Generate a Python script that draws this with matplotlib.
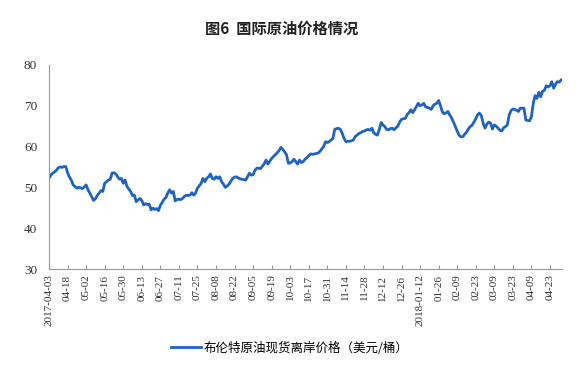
import matplotlib
matplotlib.use("Agg")
import matplotlib.pyplot as plt
import numpy as np

plt.rcParams['font.family'] = ['Noto Sans CJK SC', 'DejaVu Sans']

# 布伦特原油现货离岸价格（美元/桶），按交易日，从 2017-04-03 开始
price = [
    52.2, 53.0, 53.5, 53.8, 54.2, 54.8, 55.0, 54.9, 55.1, 55.1,
    53.6, 52.5, 51.8, 50.6, 50.2, 49.8, 50.0, 49.9, 49.7, 50.1,
    50.6, 49.4, 48.6, 47.7, 46.8, 47.2, 48.0, 48.6, 49.2, 49.0,
    51.0, 51.4, 51.8, 52.0, 53.5, 53.6, 53.3, 52.6, 52.0, 52.2,
    51.0, 51.8, 50.2, 49.6, 49.0, 48.0, 48.1, 46.5, 46.9, 47.3,
    46.8, 45.7, 46.0, 45.8, 45.9, 44.5, 44.9, 44.6, 44.8, 44.3,
    45.6, 46.3, 47.1, 47.5, 48.6, 49.4, 48.6, 49.0, 46.7, 47.0,
    47.1, 47.0, 47.3, 47.8, 48.1, 48.0, 48.1, 48.7, 48.1, 48.6,
    49.8, 50.4, 51.0, 52.2, 51.4, 52.2, 52.6, 53.3, 52.2, 52.0,
    52.6, 52.2, 52.6, 51.4, 50.8, 50.0, 50.3, 50.8, 51.5, 52.2,
    52.5, 52.6, 52.3, 52.1, 52.0, 51.9, 51.8, 52.6, 53.5, 53.0,
    53.1, 54.2, 54.7, 54.7, 54.6, 55.2, 55.8, 56.7, 55.7, 56.4,
    57.1, 57.6, 58.0, 58.5, 59.0, 59.8, 59.3, 58.7, 58.0, 55.9,
    56.0, 56.3, 56.9, 56.3, 55.7, 56.7, 56.1, 56.3, 56.9, 57.3,
    57.8, 58.2, 58.1, 58.2, 58.3, 58.4, 58.8, 59.4, 60.0, 61.2,
    61.0, 61.2, 61.6, 62.0, 64.2, 64.4, 64.5, 64.2, 63.3, 62.0,
    61.2, 61.3, 61.3, 61.4, 61.6, 62.4, 62.8, 63.2, 63.4, 63.7,
    63.8, 64.1, 64.2, 64.0, 64.5, 63.4, 63.0, 62.8, 64.2, 65.9,
    65.3, 64.9, 64.2, 64.1, 64.4, 64.5, 64.1, 64.6, 65.0, 66.0,
    66.7, 66.8, 66.9, 67.8, 68.3, 69.0, 68.3, 69.0, 69.8, 70.6,
    70.0, 70.2, 70.6, 69.7, 69.6, 69.4, 69.1, 70.0, 70.4, 70.6,
    71.3, 70.0, 68.5, 68.0, 68.3, 68.6, 67.7, 67.0, 66.0, 64.9,
    63.8, 62.8, 62.4, 62.4, 63.0, 63.5, 64.3, 64.9, 65.2, 66.0,
    66.8, 67.8, 68.2, 67.6, 65.7, 64.5, 65.5, 66.0, 65.7, 64.3,
    65.3, 65.0, 64.5, 64.0, 63.8, 64.6, 64.9, 65.3, 67.7, 68.8,
    69.2, 69.1, 68.9, 68.6, 69.4, 69.4, 69.4, 66.5, 66.4, 66.3,
    67.3, 70.6, 72.5, 71.8, 73.3, 72.2, 73.5, 73.8, 74.9, 74.6,
    74.9, 75.9, 74.3, 75.3, 75.9, 75.8, 76.3,
]

# 每 10 个交易日一个刻度
tick_labels = [
    '2017-04-03', '04-18', '05-02', '05-16', '05-30', '06-13', '06-27',
    '07-11', '07-25', '08-08', '08-22', '09-05', '09-19', '10-03',
    '10-17', '10-31', '11-14', '11-28', '12-12', '12-26', '2018-01-12',
    '01-26', '02-09', '02-23', '03-09', '03-23', '04-09', '04-23',
]
y_ticks = [30, 40, 50, 60, 70, 80]

fig = plt.figure(figsize=(5.8, 3.69), dpi=100)
ax = fig.add_axes([0.0845, 0.271, 0.8845, 0.553])

x = np.arange(len(price))
line, = ax.plot(x, price, color='#1f63c0', linewidth=2.0,
                label='布伦特原油现货离岸价格（美元/桶）')

ax.set_xlim(0, len(price) - 0.5)
ax.set_ylim(30, 80)
ax.set_yticks(y_ticks)
ax.set_yticklabels([str(v) for v in y_ticks], family='Liberation Serif',
                   fontsize=9.5, color='#333333')
ax.set_xticks(np.arange(len(tick_labels)) * 10)
ax.set_xticklabels(tick_labels, rotation=90, family='Liberation Serif',
                   fontsize=8, color='#333333')

ax.tick_params(axis='y', length=0, pad=8.5)
ax.tick_params(axis='x', direction='in', length=3, color='#999999', pad=4)

ax.spines['right'].set_visible(False)  # 隐藏上、右边框
ax.spines['top'].set_visible(False)
ax.spines['left'].set_color('#999999')
ax.spines['bottom'].set_color('#999999')

fig.text(0.485, 0.921, '图6  国际原油价格情况', ha='center', va='center',
         fontsize=11, fontweight='bold', color='#222222')

fig.legend(handles=[line], loc='center', bbox_to_anchor=(0.5, 0.057),
           frameon=False, fontsize=9, handlelength=2.4, handletextpad=0.2)

fig.savefig('out.png', dpi=100)
